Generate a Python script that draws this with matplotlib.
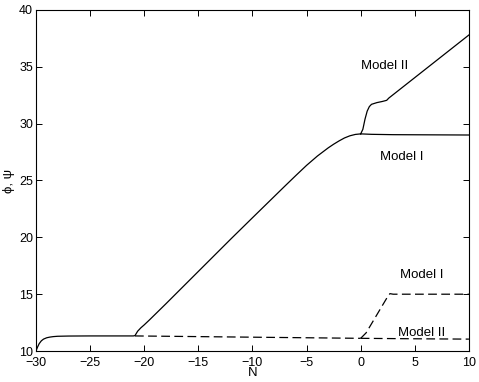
import matplotlib
matplotlib.use("Agg")
import matplotlib.pyplot as plt

plt.rcParams['font.family'] = ['Liberation Sans', 'DejaVu Sans']

# phi (solid), common part up to N=0
N_common = [-30, -29.85, -29.7, -29.5, -29.3, -29.0, -28.7, -28.4, -28.0, -27.0, -25.0,
            -23.0, -21.0, -20.85, -20.6, -20.3, -20.0, -19.5, -18.0, -16.0, -14.0,
            -12.0, -10.0, -8.0, -7.0, -6.0, -5.0, -4.0, -3.0, -2.5, -2.0, -1.5,
            -1.0, -0.5, 0.0]
phi_common = [10.0, 10.35, 10.65, 10.9, 11.05, 11.17, 11.23, 11.27, 11.3, 11.32, 11.33,
              11.33, 11.33, 11.36, 11.75, 12.05, 12.3, 12.75, 14.15, 16.05, 17.95,
              19.85, 21.72, 23.58, 24.51, 25.43, 26.33, 27.15, 27.87, 28.19, 28.48, 28.74,
              28.93, 29.05, 29.1]

# Model I phi after N=0
N_phiI = [0.0, 1.0, 3.0, 10.0]
phi_I = [29.1, 29.06, 29.03, 29.0]

# Model II phi after N=0
N_phiII = [0.0, 0.2, 0.4, 0.6, 0.8, 1.0, 1.5, 2.0, 2.4, 2.6, 3.0, 10.0]
phi_II = [29.1, 29.5, 30.4, 31.1, 31.5, 31.7, 31.85, 31.95, 32.05, 32.25, 32.55, 37.8]

# psi (dashed)
N_psi_common = [-20.85, -10.0, 0.0]
psi_common = [11.33, 11.22, 11.12]

N_psiI = [0.0, 0.5, 1.0, 1.5, 2.0, 2.5, 2.7, 3.0, 10.0]
psi_I = [11.12, 11.6, 12.4, 13.2, 14.0, 14.8, 15.05, 15.0, 15.0]

N_psiII = [0.0, 5.0, 10.0]
psi_II = [11.12, 11.08, 11.05]

fig = plt.figure(figsize=(4.79, 3.82), dpi=100)
ax = fig.add_axes([0.075, 0.081, 0.904, 0.893])

lw = 0.9
ax.plot(N_common, phi_common, color='black', lw=lw)
ax.plot(N_phiI, phi_I, color='black', lw=lw)
ax.plot(N_phiII, phi_II, color='black', lw=lw)
dash = (0, (7, 3.5))
ax.plot(N_psi_common, psi_common, color='black', lw=lw, linestyle=dash)
ax.plot(N_psiI, psi_I, color='black', lw=lw, linestyle=dash)
ax.plot(N_psiII, psi_II, color='black', lw=lw, linestyle=dash)

fs = 9.5
ax.text(2.25, 35.1, 'Model II', fontsize=fs, ha='center', va='center')
ax.text(3.8, 27.1, 'Model I', fontsize=fs, ha='center', va='center')
ax.text(5.65, 16.7, 'Model I', fontsize=fs, ha='center', va='center')
ax.text(5.6, 11.6, 'Model II', fontsize=fs, ha='center', va='center')

ax.set_xlim(-30, 10)
ax.set_ylim(10, 40)
ax.set_xticks([-30, -25, -20, -15, -10, -5, 0, 5, 10])
ax.set_yticks([10, 15, 20, 25, 30, 35, 40])
ax.tick_params(direction='in', top=True, right=True, length=4, width=0.7,
               labelsize=9, pad=2)
ax.tick_params(axis='x', pad=4)
for s in ax.spines.values():
    s.set_linewidth(0.8)
ax.set_xlabel('N', fontsize=9.5, labelpad=-1)
ax.set_ylabel('ϕ, ψ', fontsize=9.5, labelpad=3)

fig.savefig('out.png', dpi=100)
